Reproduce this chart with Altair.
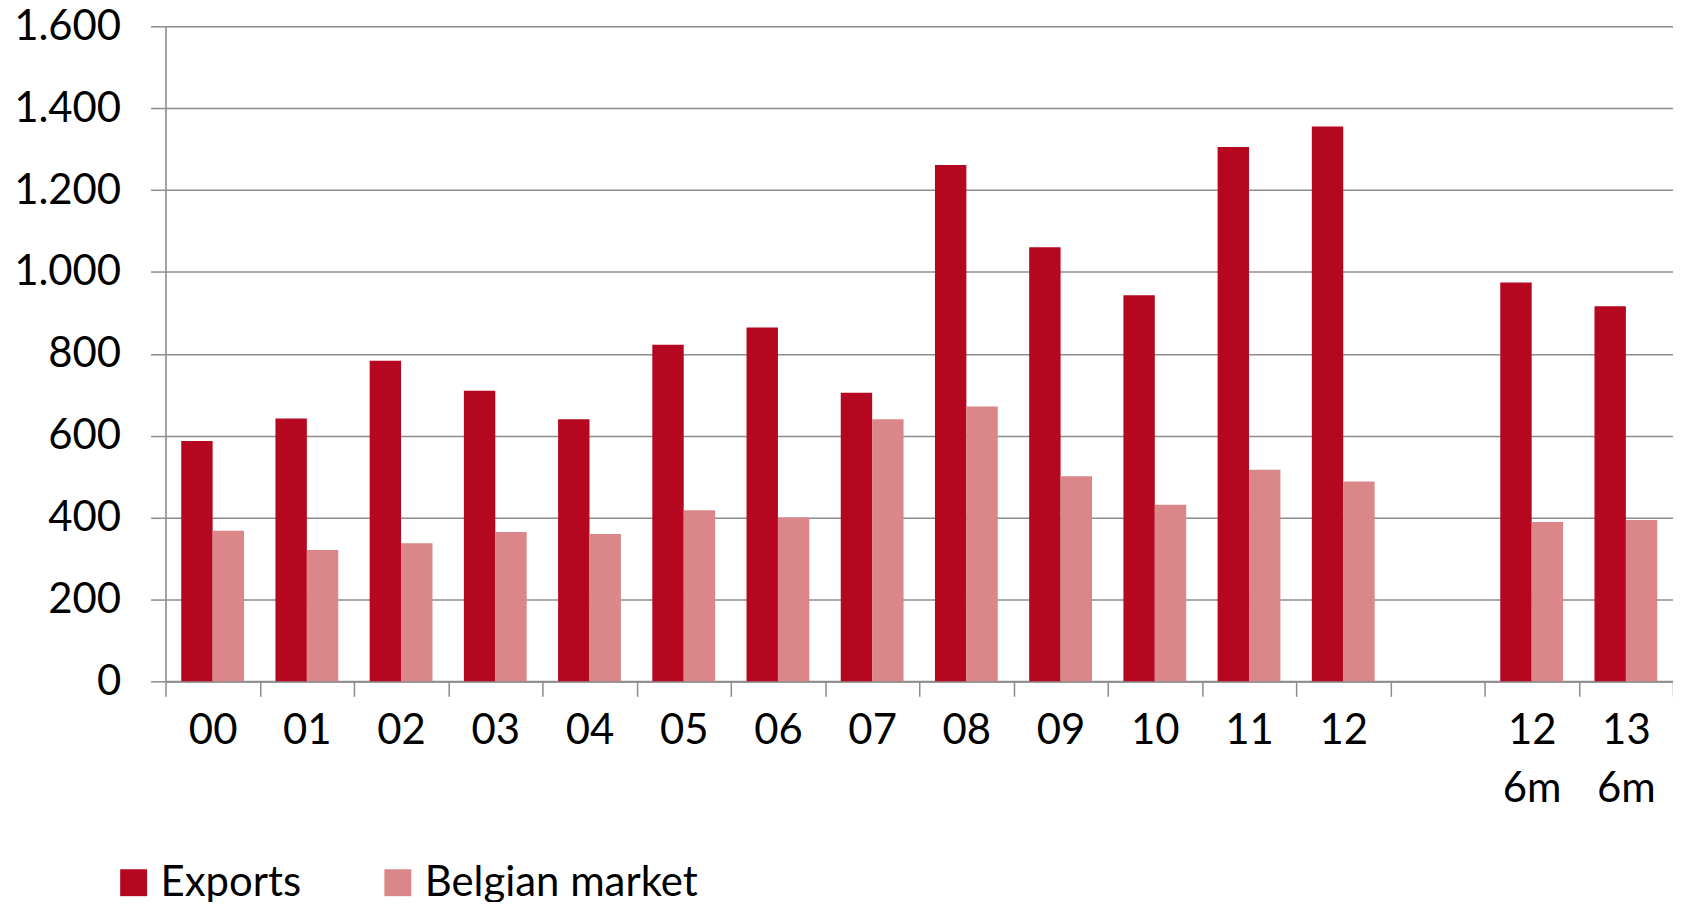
import altair as alt
import pandas as pd

categories = ["00", "01", "02", "03", "04", "05", "06", "07", "08", "09",
              "10", "11", "12", "gap", "12 6m", "13 6m"]
data_categories = ["00", "01", "02", "03", "04", "05", "06", "07", "08", "09",
                   "10", "11", "12", "12 6m", "13 6m"]
exports = [587, 642, 783, 710, 640, 822, 864, 705, 1261, 1060, 943, 1305, 1355, 974, 916]
belgian = [368, 321, 337, 365, 360, 418, 400, 640, 671, 501, 431, 517, 488, 389, 394]
series = ["Exports", "Belgian market"]
colors = ["#B5071F", "#DB8689"]
y_ticks = [0, 200, 400, 600, 800, 1000, 1200, 1400, 1600]

rows = []
for c, e, b in zip(data_categories, exports, belgian):
    rows.append({"cat": c, "series": "Exports", "value": e})
    rows.append({"cat": c, "series": "Belgian market", "value": b})
df = pd.DataFrame(rows)

FONT = "Lato"
FS = 42

chart = alt.Chart(df).mark_bar().encode(
    x=alt.X("cat:N", sort=categories,
            scale=alt.Scale(domain=categories, paddingInner=0, paddingOuter=0),
            axis=alt.Axis(title=None, tickBand="extent", labelAngle=0,
                          labelExpr="isValid(datum.value) && datum.value != 'gap' ? split(datum.value, ' ') : ''",
                          labelFont=FONT, labelFontSize=FS, labelColor="#000000",
                          labelLineHeight=59, labelPadding=14,
                          tickSize=15, tickColor="#8c8c8c", tickWidth=1.5,
                          domainColor="#8c8c8c", domainWidth=2, grid=False)),
    xOffset=alt.XOffset("series:N",
                        scale=alt.Scale(domain=series, paddingInner=0, paddingOuter=0.5)),
    y=alt.Y("value:Q",
            scale=alt.Scale(domain=[0, 1600], nice=False),
            axis=alt.Axis(title=None, values=y_ticks,
                          labelExpr="replace(format(datum.value, ','), ',', '.')",
                          labelFont=FONT, labelFontSize=FS, labelColor="#000000",
                          labelPadding=30,
                          tickSize=15, tickColor="#8c8c8c", tickWidth=1.5,
                          domainColor="#8c8c8c", domainWidth=1.5,
                          grid=True, gridColor="#8c8c8c", gridWidth=1.5)),
    color=alt.Color("series:N", sort=series,
                    scale=alt.Scale(domain=series, range=colors),
                    legend=alt.Legend(title=None, orient="none", direction="horizontal",
                                      legendX=-53, legendY=838,
                                      symbolType="square", symbolSize=729,
                                      symbolStrokeWidth=0, symbolOpacity=1,
                                      labelFont=FONT, labelFontSize=FS,
                                      labelColor="#000000", labelOffset=6,
                                      labelLimit=600, columnPadding=75)),
).properties(
    width=1512, height=657,
    autosize=alt.AutoSizeParams(type="none"),
    padding={"left": 158, "top": 17, "right": 0, "bottom": 220},
).configure_view(stroke=None).configure(background="white")

chart.save("out.html", embed_options={"renderer": "svg", "actions": False})
